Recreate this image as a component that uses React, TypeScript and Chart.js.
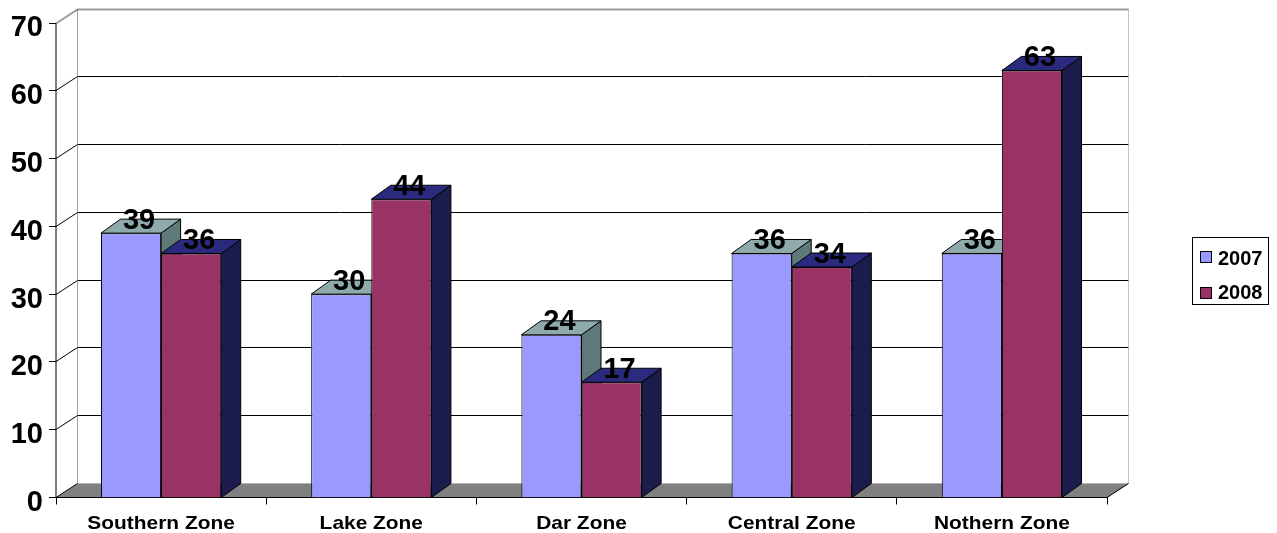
import { useEffect, useRef } from "react";
import { Chart, registerables } from "chart.js";

Chart.register(...registerables);

// Data
const zones = ["Southern Zone", "Lake Zone", "Dar Zone", "Central Zone", "Nothern Zone"];
const values2007 = [39, 30, 24, 36, 36];
const values2008 = [36, 44, 17, 34, 63];
const seriesNames = ["2007", "2008"];
const yTicks = [0, 10, 20, 30, 40, 50, 60, 70];

const FONT = '"Liberation Sans", Arial, Helvetica, sans-serif';

// Shading for the three visible faces of each series' boxes
const faceColors = [
  { front: "#9999FF", top: "#8FAAAA", side: "#5F7878" },
  { front: "#993366", top: "#2A2A7E", side: "#1C1C4C" },
];

// Depth projection of the walls and the bars
const WALL_DX = 21.5;
const WALL_DY = -14;
const BAR_DX = 19.5;
const BAR_DY = -14;

type Pt = [number, number];

const crisp = (v: number) => Math.round(v - 0.5) + 0.5;

function strokePath(ctx: CanvasRenderingContext2D, pts: Pt[], color: string, width = 1, dash: number[] = []) {
  ctx.save();
  ctx.beginPath();
  ctx.moveTo(pts[0][0], pts[0][1]);
  for (let i = 1; i < pts.length; i++) ctx.lineTo(pts[i][0], pts[i][1]);
  ctx.strokeStyle = color;
  ctx.lineWidth = width;
  ctx.setLineDash(dash);
  ctx.stroke();
  ctx.restore();
}

function fillPoly(ctx: CanvasRenderingContext2D, pts: Pt[], fill: string, stroke?: string) {
  ctx.save();
  ctx.beginPath();
  ctx.moveTo(pts[0][0], pts[0][1]);
  for (let i = 1; i < pts.length; i++) ctx.lineTo(pts[i][0], pts[i][1]);
  ctx.closePath();
  ctx.fillStyle = fill;
  ctx.fill();
  if (stroke) {
    ctx.strokeStyle = stroke;
    ctx.lineWidth = 1;
    ctx.lineJoin = "miter";
    ctx.stroke();
  }
  ctx.restore();
}

function drawText(
  ctx: CanvasRenderingContext2D,
  s: string,
  x: number,
  y: number,
  size: number,
  align: CanvasTextAlign,
  sx = 1
) {
  ctx.save();
  ctx.font = `bold ${size}px ${FONT}`;
  ctx.fillStyle = "#000";
  ctx.textBaseline = "alphabetic";
  ctx.textAlign = align;
  ctx.translate(x, y);
  ctx.scale(sx, 1);
  ctx.fillText(s, 0, 0);
  ctx.restore();
}

// Walls, floor, axes and the depth faces of the bars
const box3d = {
  id: "box3d",
  beforeDatasetsDraw(chart: any) {
    const { ctx, chartArea: a, scales } = chart;
    const xs = scales.x;
    const ys = scales.y;
    const L = a.left;
    const R = a.right;
    const B = crisp(ys.getPixelForValue(0));
    const T = crisp(ys.getPixelForValue(yTicks[yTicks.length - 1]));
    const bL = L + WALL_DX;
    const bR = R + WALL_DX;

    // back wall and side wall gridlines
    for (const v of yTicks) {
      if (v === 0) continue;
      const fy = crisp(ys.getPixelForValue(v));
      const by = fy + WALL_DY;
      if (v === yTicks[yTicks.length - 1]) continue;
      strokePath(ctx, [[bL, by], [bR, by]], "#000", 1);
      strokePath(ctx, [[L, fy], [bL, by]], "#000", 1);
    }
    // wall top edge
    strokePath(ctx, [[L, T], [bL, T + WALL_DY], [bR, T + WALL_DY]], "#9a9a9a", 2);
    // back wall vertical edges
    strokePath(ctx, [[bL, T + WALL_DY], [bL, B + WALL_DY]], "#444", 1, [1, 1]);
    strokePath(ctx, [[bR, T + WALL_DY], [bR, B + WALL_DY]], "#8a8a8a", 1, [1, 1]);

    // floor
    fillPoly(ctx, [[L, B], [bL, B + WALL_DY], [bR, B + WALL_DY], [R, B]], "#808080");
    strokePath(ctx, [[bL, B + WALL_DY], [bR, B + WALL_DY]], "#a8a8a8", 1, [1, 1]);
    strokePath(ctx, [[bL, B + WALL_DY], [L, B], [R, B], [bR, B + WALL_DY]], "#000", 1);

    // value axis line and tick marks
    strokePath(ctx, [[L, T], [L, B]], "#000", 1);
    for (const v of yTicks) {
      const fy = crisp(ys.getPixelForValue(v));
      strokePath(ctx, [[L - 7, fy], [L, fy]], "#000", 1);
    }
    // category tick marks at boundaries
    const n = zones.length;
    const step = (xs.right - xs.left) / n;
    for (let i = 0; i <= n; i++) {
      const tx = crisp(xs.left + i * step);
      strokePath(ctx, [[tx, B], [tx, B + 7]], "#000", 1);
    }

    // side and top faces, left series first so its neighbour covers it
    for (let i = 0; i < n; i++) {
      for (let d = 0; d < chart.data.datasets.length; d++) {
        const el = chart.getDatasetMeta(d).data[i];
        const { x, y, base, width } = el.getProps(["x", "y", "base", "width"], true);
        const l = x - width / 2;
        const r = x + width / 2;
        const c = faceColors[d];
        fillPoly(ctx, [[r, y], [r + BAR_DX, y + BAR_DY], [r + BAR_DX, base + BAR_DY], [r, base]], c.side, "#000");
        fillPoly(ctx, [[l, y], [l + BAR_DX, y + BAR_DY], [r + BAR_DX, y + BAR_DY], [r, y]], c.top, "#000");
      }
    }
  },
  afterDatasetsDraw(chart: any) {
    const { ctx, chartArea: a, scales } = chart;
    const xs = scales.x;
    const ys = scales.y;

    // value labels on the bar tops
    chart.data.datasets.forEach((ds: any, d: number) => {
      chart.getDatasetMeta(d).data.forEach((el: any, i: number) => {
        const { x, y } = el.getProps(["x", "y"], true);
        drawText(ctx, String(ds.data[i]), x + 8, y - 4.5, 29, "center");
      });
    });

    // value axis labels
    for (const v of yTicks) {
      const fy = ys.getPixelForValue(v);
      drawText(ctx, String(v), a.left - 13, fy + 13.4, 29, "right");
    }

    // category labels
    zones.forEach((z, i) => {
      drawText(ctx, z, xs.getPixelForValue(i), 528.5, 19, "center", 1.1);
    });

    // legend
    ctx.save();
    ctx.strokeStyle = "#000";
    ctx.lineWidth = 1;
    ctx.strokeRect(1192.5, 237.5, 76, 67);
    ctx.restore();
    seriesNames.forEach((name, d) => {
      const top = 251 + d * 36;
      ctx.save();
      ctx.fillStyle = faceColors[d].front;
      ctx.fillRect(1200.5, top + 0.5, 11, 11);
      ctx.strokeStyle = "#000";
      ctx.lineWidth = 1;
      ctx.strokeRect(1200.5, top + 0.5, 11, 11);
      ctx.restore();
      drawText(ctx, name, 1218, 265 + d * 34, 20, "left");
    });
  },
};

export default function App() {
  const canvasRef = useRef<HTMLCanvasElement | null>(null);

  useEffect(() => {
    const canvas = canvasRef.current;
    if (!canvas) return;
    const chart = new Chart(canvas, {
      type: "bar",
      data: {
        labels: zones,
        datasets: [
          {
            label: seriesNames[0],
            data: values2007,
            backgroundColor: faceColors[0].front,
            borderColor: "#000",
            borderWidth: 1,
            categoryPercentage: 0.572,
            barPercentage: 1,
          },
          {
            label: seriesNames[1],
            data: values2008,
            backgroundColor: faceColors[1].front,
            borderColor: "#000",
            borderWidth: 1,
            categoryPercentage: 0.572,
            barPercentage: 1,
          },
        ],
      },
      options: {
        responsive: false,
        animation: false,
        devicePixelRatio: 1,
        layout: { padding: { left: 0, top: 23, right: 170, bottom: 0 } },
        plugins: {
          legend: { display: false },
          tooltip: { enabled: false },
        },
        scales: {
          x: {
            grid: { display: false },
            border: { display: false },
            ticks: { display: false },
            afterFit: (s: any) => {
              s.height = 35.5;
            },
          },
          y: {
            min: 0,
            max: 70,
            ticks: { display: false, stepSize: 10 },
            grid: { display: false },
            border: { display: false },
            afterFit: (s: any) => {
              s.width = 56;
            },
          },
        },
      },
      plugins: [box3d],
    });
    return () => chart.destroy();
  }, []);

  return (
    <div style={{ position: "fixed", left: 0, top: 0, width: 1277, height: 533, background: "#fff" }}>
      <canvas ref={canvasRef} width={1277} height={533} style={{ display: "block" }} />
    </div>
  );
}
